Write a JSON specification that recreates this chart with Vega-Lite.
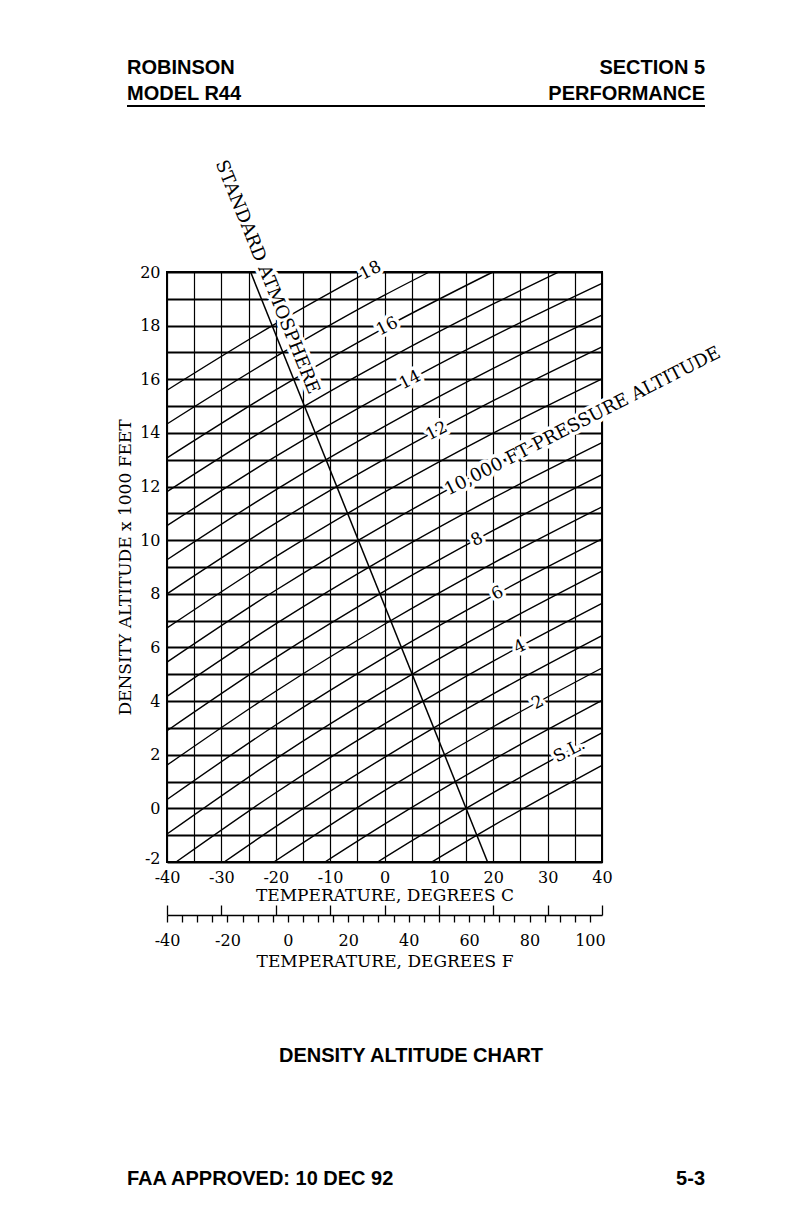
{
  "$schema": "https://vega.github.io/schema/vega-lite/v6.json",
  "width": 435,
  "height": 590,
  "autosize": {"type": "none"},
  "padding": {"left": 167, "top": 272, "right": 190, "bottom": 362},
  "background": "white",
  "config": {
    "font": "DejaVu Serif",
    "view": {"stroke": "black", "strokeWidth": 2},
    "axis": {"labelColor": "black", "titleColor": "black", "titleFontWeight": "normal", "labelFont": "DejaVu Serif", "titleFont": "DejaVu Serif"}
  },
  "datasets": {
    "pa": [
      {"PA": -1, "T": 8.70, "DA": -2}, {"PA": -1, "T": 20, "DA": -0.644}, {"PA": -1, "T": 40, "DA": 1.604},
      {"PA": 0, "T": -1.27, "DA": -2}, {"PA": 0, "T": 0, "DA": -1.838}, {"PA": 0, "T": 20, "DA": 0.587}, {"PA": 0, "T": 40, "DA": 2.816},
      {"PA": 1, "T": -10.95, "DA": -2}, {"PA": 1, "T": 0, "DA": -0.589}, {"PA": 1, "T": 20, "DA": 1.816}, {"PA": 1, "T": 40, "DA": 4.026},
      {"PA": 2, "T": -20.35, "DA": -2}, {"PA": 2, "T": 0, "DA": 0.659}, {"PA": 2, "T": 20, "DA": 3.043}, {"PA": 2, "T": 40, "DA": 5.234},
      {"PA": 3, "T": -29.48, "DA": -2}, {"PA": 3, "T": -20, "DA": -0.683}, {"PA": 3, "T": 0, "DA": 1.904}, {"PA": 3, "T": 20, "DA": 4.268}, {"PA": 3, "T": 40, "DA": 6.440},
      {"PA": 4, "T": -38.34, "DA": -2}, {"PA": 4, "T": -20, "DA": 0.582}, {"PA": 4, "T": 0, "DA": 3.148}, {"PA": 4, "T": 20, "DA": 5.491}, {"PA": 4, "T": 40, "DA": 7.644},
      {"PA": 5, "T": -40, "DA": -0.958}, {"PA": 5, "T": -20, "DA": 1.846}, {"PA": 5, "T": 0, "DA": 4.389}, {"PA": 5, "T": 20, "DA": 6.712}, {"PA": 5, "T": 40, "DA": 8.846},
      {"PA": 6, "T": -40, "DA": 0.328}, {"PA": 6, "T": -20, "DA": 3.108}, {"PA": 6, "T": 0, "DA": 5.628}, {"PA": 6, "T": 20, "DA": 7.930}, {"PA": 6, "T": 40, "DA": 10.046},
      {"PA": 7, "T": -40, "DA": 1.612}, {"PA": 7, "T": -20, "DA": 4.367}, {"PA": 7, "T": 0, "DA": 6.865}, {"PA": 7, "T": 20, "DA": 9.147}, {"PA": 7, "T": 40, "DA": 11.244},
      {"PA": 8, "T": -40, "DA": 2.894}, {"PA": 8, "T": -20, "DA": 5.624}, {"PA": 8, "T": 0, "DA": 8.100}, {"PA": 8, "T": 20, "DA": 10.362}, {"PA": 8, "T": 40, "DA": 12.441},
      {"PA": 9, "T": -40, "DA": 4.174}, {"PA": 9, "T": -20, "DA": 6.880}, {"PA": 9, "T": 0, "DA": 9.334}, {"PA": 9, "T": 20, "DA": 11.575}, {"PA": 9, "T": 40, "DA": 13.635},
      {"PA": 10, "T": -40, "DA": 5.452}, {"PA": 10, "T": -20, "DA": 8.133}, {"PA": 10, "T": 0, "DA": 10.565}, {"PA": 10, "T": 20, "DA": 12.785}, {"PA": 10, "T": 40, "DA": 14.827},
      {"PA": 11, "T": -40, "DA": 6.727}, {"PA": 11, "T": -20, "DA": 9.384}, {"PA": 11, "T": 0, "DA": 11.793}, {"PA": 11, "T": 20, "DA": 13.994}, {"PA": 11, "T": 40, "DA": 16.017},
      {"PA": 12, "T": -40, "DA": 8.000}, {"PA": 12, "T": -20, "DA": 10.633}, {"PA": 12, "T": 0, "DA": 13.020}, {"PA": 12, "T": 20, "DA": 15.200}, {"PA": 12, "T": 40, "DA": 17.205},
      {"PA": 13, "T": -40, "DA": 9.271}, {"PA": 13, "T": -20, "DA": 11.879}, {"PA": 13, "T": 0, "DA": 14.244}, {"PA": 13, "T": 20, "DA": 16.405}, {"PA": 13, "T": 40, "DA": 18.390},
      {"PA": 14, "T": -40, "DA": 10.540}, {"PA": 14, "T": -20, "DA": 13.123}, {"PA": 14, "T": 0, "DA": 15.467}, {"PA": 14, "T": 20, "DA": 17.607}, {"PA": 14, "T": 40, "DA": 19.574},
      {"PA": 15, "T": -40, "DA": 11.806}, {"PA": 15, "T": -20, "DA": 14.365}, {"PA": 15, "T": 0, "DA": 16.687}, {"PA": 15, "T": 20, "DA": 18.807}, {"PA": 15, "T": 32.03, "DA": 20},
      {"PA": 16, "T": -40, "DA": 13.070}, {"PA": 16, "T": -20, "DA": 15.606}, {"PA": 16, "T": 0, "DA": 17.920}, {"PA": 16, "T": 19.93, "DA": 20},
      {"PA": 17, "T": -40, "DA": 14.332}, {"PA": 17, "T": -20, "DA": 16.843}, {"PA": 17, "T": 0, "DA": 19.136}, {"PA": 17, "T": 8.23, "DA": 20},
      {"PA": 18, "T": -40, "DA": 15.591}, {"PA": 18, "T": -20, "DA": 18.078}, {"PA": 18, "T": -3.10, "DA": 20}
    ],
    "std": [
      {"T": -24.62, "DA": 20},
      {"T": 18.96, "DA": -2}
    ],
    "numLabels": [
      {"txt": "18", "T": -2.6, "DA": 20.05},
      {"txt": "16", "T": 0.5, "DA": 17.97},
      {"txt": "14", "T": 4.7, "DA": 15.97},
      {"txt": "12", "T": 9.6, "DA": 14.07},
      {"txt": "8", "T": 17.0, "DA": 10.02},
      {"txt": "6", "T": 20.8, "DA": 8.02},
      {"txt": "4", "T": 24.9, "DA": 6.02},
      {"txt": "2", "T": 28.2, "DA": 3.94},
      {"txt": "S.L.", "T": 34.0, "DA": 2.15}
    ],
    "longLabel": [
      {"txt": "10,000 FT PRESSURE ALTITUDE", "T": 11.3, "DA": 11.82}
    ],
    "stdLabel": [
      {"txt": "STANDARD ATMOSPHERE", "T": -32.45, "DA": 23.95}
    ],
    "pageLeft": [
      {"txt": "ROBINSON", "T": -47.356, "DA": 27.38},
      {"txt": "MODEL R44", "T": -47.356, "DA": 26.41},
      {"txt": "FAA APPROVED: 10 DEC 92", "T": -47.356, "DA": -14.04}
    ],
    "pageRight": [
      {"txt": "SECTION 5", "T": 58.943, "DA": 27.38},
      {"txt": "PERFORMANCE", "T": 58.943, "DA": 26.41},
      {"txt": "5-3", "T": 58.943, "DA": -14.04}
    ],
    "pageCenter": [
      {"txt": "DENSITY ALTITUDE CHART", "T": 4.874, "DA": -9.46}
    ],
    "headerRule": [
      {"T": -47.356, "T2": 58.943, "DA": 26.19}
    ],
    "fScale": [{"F": -40}, {"F": 104}],
    "cScale": [{"C": -40}, {"C": 40}]
  },
  "resolve": {
    "scale": {"x": "independent", "y": "independent"},
    "axis": {"x": "independent", "y": "independent"}
  },
  "layer": [
    {
      "data": {"name": "pa"},
      "mark": {"type": "line", "stroke": "black", "strokeWidth": 1.4, "interpolate": "monotone"},
      "encoding": {
        "x": {
          "field": "T", "type": "quantitative",
          "scale": {"domain": [-40, 40], "nice": false, "zero": false},
          "axis": {
            "orient": "bottom",
            "values": [-40, -35, -30, -25, -20, -15, -10, -5, 0, 5, 10, 15, 20, 25, 30, 35, 40],
            "grid": true, "gridColor": "black", "gridWidth": 1.2, "gridOpacity": 1,
            "ticks": false, "tickSize": 0, "domain": false,
            "labelExpr": "datum.value % 10 === 0 ? '' + datum.value : ''",
            "labelFontSize": 16, "labelPadding": 7, "labelFlush": false, "labelOverlap": false,
            "title": "TEMPERATURE, DEGREES C", "titleFontSize": 17, "titlePadding": 2
          }
        },
        "y": {
          "field": "DA", "type": "quantitative",
          "scale": {"domain": [-2, 20], "nice": false, "zero": false},
          "axis": {
            "orient": "left",
            "values": [-2, -1, 0, 1, 2, 3, 4, 5, 6, 7, 8, 9, 10, 11, 12, 13, 14, 15, 16, 17, 18, 19, 20],
            "grid": true, "gridColor": "black", "gridWidth": 1.8, "gridOpacity": 1,
            "ticks": false, "tickSize": 0, "domain": false,
            "labelExpr": "datum.value % 2 === 0 ? '' + datum.value : ''",
            "labelOffset": {"condition": {"test": "datum.value === -2", "value": -4}, "value": 0},
            "labelFontSize": 16, "labelPadding": 7, "labelFlush": false, "labelOverlap": false,
            "title": "DENSITY ALTITUDE x 1000 FEET", "titleFontSize": 17, "titlePadding": 5
          }
        },
        "detail": {"field": "PA", "type": "nominal"}
      }
    },
    {
      "data": {"name": "numLabels"},
      "mark": {"type": "text", "angle": 333, "fontSize": 17, "align": "center", "baseline": "middle", "color": "white", "stroke": "white", "strokeWidth": 7, "strokeJoin": "round"},
      "encoding": {
        "x": {"field": "T", "type": "quantitative", "scale": {"domain": [-40, 40], "nice": false, "zero": false}, "axis": null},
        "y": {"field": "DA", "type": "quantitative", "scale": {"domain": [-2, 20], "nice": false, "zero": false}, "axis": null},
        "text": {"field": "txt"}
      }
    },
    {
      "data": {"name": "longLabel"},
      "mark": {"type": "text", "angle": 333, "fontSize": 18, "align": "left", "baseline": "middle", "color": "white", "stroke": "white", "strokeWidth": 7, "strokeJoin": "round"},
      "encoding": {
        "x": {"field": "T", "type": "quantitative", "scale": {"domain": [-40, 40], "nice": false, "zero": false}, "axis": null},
        "y": {"field": "DA", "type": "quantitative", "scale": {"domain": [-2, 20], "nice": false, "zero": false}, "axis": null},
        "text": {"field": "txt"}
      }
    },
    {
      "data": {"name": "stdLabel"},
      "mark": {"type": "text", "angle": 68, "fontSize": 18, "align": "left", "baseline": "bottom", "dy": -4, "color": "white", "stroke": "white", "strokeWidth": 7, "strokeJoin": "round"},
      "encoding": {
        "x": {"field": "T", "type": "quantitative", "scale": {"domain": [-40, 40], "nice": false, "zero": false}, "axis": null},
        "y": {"field": "DA", "type": "quantitative", "scale": {"domain": [-2, 20], "nice": false, "zero": false}, "axis": null},
        "text": {"field": "txt"}
      }
    },
    {
      "data": {"name": "std"},
      "mark": {"type": "line", "stroke": "black", "strokeWidth": 1.5},
      "encoding": {
        "x": {"field": "T", "type": "quantitative", "scale": {"domain": [-40, 40], "nice": false, "zero": false}, "axis": null},
        "y": {"field": "DA", "type": "quantitative", "scale": {"domain": [-2, 20], "nice": false, "zero": false}, "axis": null}
      }
    },
    {
      "data": {"name": "numLabels"},
      "mark": {"type": "text", "angle": 333, "fontSize": 17, "align": "center", "baseline": "middle", "color": "black"},
      "encoding": {
        "x": {"field": "T", "type": "quantitative", "scale": {"domain": [-40, 40], "nice": false, "zero": false}, "axis": null},
        "y": {"field": "DA", "type": "quantitative", "scale": {"domain": [-2, 20], "nice": false, "zero": false}, "axis": null},
        "text": {"field": "txt"}
      }
    },
    {
      "data": {"name": "longLabel"},
      "mark": {"type": "text", "angle": 333, "fontSize": 18, "align": "left", "baseline": "middle", "color": "black"},
      "encoding": {
        "x": {"field": "T", "type": "quantitative", "scale": {"domain": [-40, 40], "nice": false, "zero": false}, "axis": null},
        "y": {"field": "DA", "type": "quantitative", "scale": {"domain": [-2, 20], "nice": false, "zero": false}, "axis": null},
        "text": {"field": "txt"}
      }
    },
    {
      "data": {"name": "stdLabel"},
      "mark": {"type": "text", "angle": 68, "fontSize": 18, "align": "left", "baseline": "bottom", "dy": -4, "color": "black"},
      "encoding": {
        "x": {"field": "T", "type": "quantitative", "scale": {"domain": [-40, 40], "nice": false, "zero": false}, "axis": null},
        "y": {"field": "DA", "type": "quantitative", "scale": {"domain": [-2, 20], "nice": false, "zero": false}, "axis": null},
        "text": {"field": "txt"}
      }
    },
    {
      "data": {"name": "fScale"},
      "mark": {"type": "point", "opacity": 0},
      "encoding": {
        "x": {
          "field": "F", "type": "quantitative",
          "scale": {"domain": [-40, 104], "nice": false, "zero": false},
          "axis": {
            "orient": "bottom", "offset": 53,
            "values": [-40, -35, -30, -25, -20, -15, -10, -5, 0, 5, 10, 15, 20, 25, 30, 35, 40, 45, 50, 55, 60, 65, 70, 75, 80, 85, 90, 95, 100],
            "grid": false, "domain": true, "domainColor": "black", "domainWidth": 1.5,
            "ticks": true, "tickColor": "black", "tickSize": 7, "tickWidth": 1.3,
            "labelExpr": "datum.value % 20 === 0 ? '' + datum.value : ''",
            "labelFontSize": 16, "labelPadding": 10, "labelFlush": false, "labelOverlap": false,
            "title": "TEMPERATURE, DEGREES F", "titleFontSize": 17, "titlePadding": 5
          }
        }
      }
    },
    {
      "data": {"name": "cScale"},
      "mark": {"type": "point", "opacity": 0},
      "encoding": {
        "x": {
          "field": "C", "type": "quantitative",
          "scale": {"domain": [-40, 40], "nice": false, "zero": false},
          "axis": {
            "orient": "bottom", "offset": 53,
            "values": [-40, -30, -20, -10, 0, 10, 20, 30, 40],
            "grid": false, "domain": false, "labels": false, "title": null,
            "ticks": true, "tickColor": "black", "tickSize": -10, "tickWidth": 1.3
          }
        }
      }
    },
    {
      "data": {"name": "pageLeft"},
      "mark": {"type": "text", "font": "Liberation Sans", "fontWeight": "bold", "fontSize": 20, "align": "left", "baseline": "alphabetic", "color": "black"},
      "encoding": {
        "x": {"field": "T", "type": "quantitative", "scale": {"domain": [-40, 40], "nice": false, "zero": false}, "axis": null},
        "y": {"field": "DA", "type": "quantitative", "scale": {"domain": [-2, 20], "nice": false, "zero": false}, "axis": null},
        "text": {"field": "txt"}
      }
    },
    {
      "data": {"name": "pageRight"},
      "mark": {"type": "text", "font": "Liberation Sans", "fontWeight": "bold", "fontSize": 20, "align": "right", "baseline": "alphabetic", "color": "black"},
      "encoding": {
        "x": {"field": "T", "type": "quantitative", "scale": {"domain": [-40, 40], "nice": false, "zero": false}, "axis": null},
        "y": {"field": "DA", "type": "quantitative", "scale": {"domain": [-2, 20], "nice": false, "zero": false}, "axis": null},
        "text": {"field": "txt"}
      }
    },
    {
      "data": {"name": "pageCenter"},
      "mark": {"type": "text", "font": "Liberation Sans", "fontWeight": "bold", "fontSize": 20, "align": "center", "baseline": "alphabetic", "color": "black"},
      "encoding": {
        "x": {"field": "T", "type": "quantitative", "scale": {"domain": [-40, 40], "nice": false, "zero": false}, "axis": null},
        "y": {"field": "DA", "type": "quantitative", "scale": {"domain": [-2, 20], "nice": false, "zero": false}, "axis": null},
        "text": {"field": "txt"}
      }
    },
    {
      "data": {"name": "headerRule"},
      "mark": {"type": "rule", "stroke": "black", "strokeWidth": 2},
      "encoding": {
        "x": {"field": "T", "type": "quantitative", "scale": {"domain": [-40, 40], "nice": false, "zero": false}, "axis": null},
        "x2": {"field": "T2"},
        "y": {"field": "DA", "type": "quantitative", "scale": {"domain": [-2, 20], "nice": false, "zero": false}, "axis": null}
      }
    }
  ]
}
